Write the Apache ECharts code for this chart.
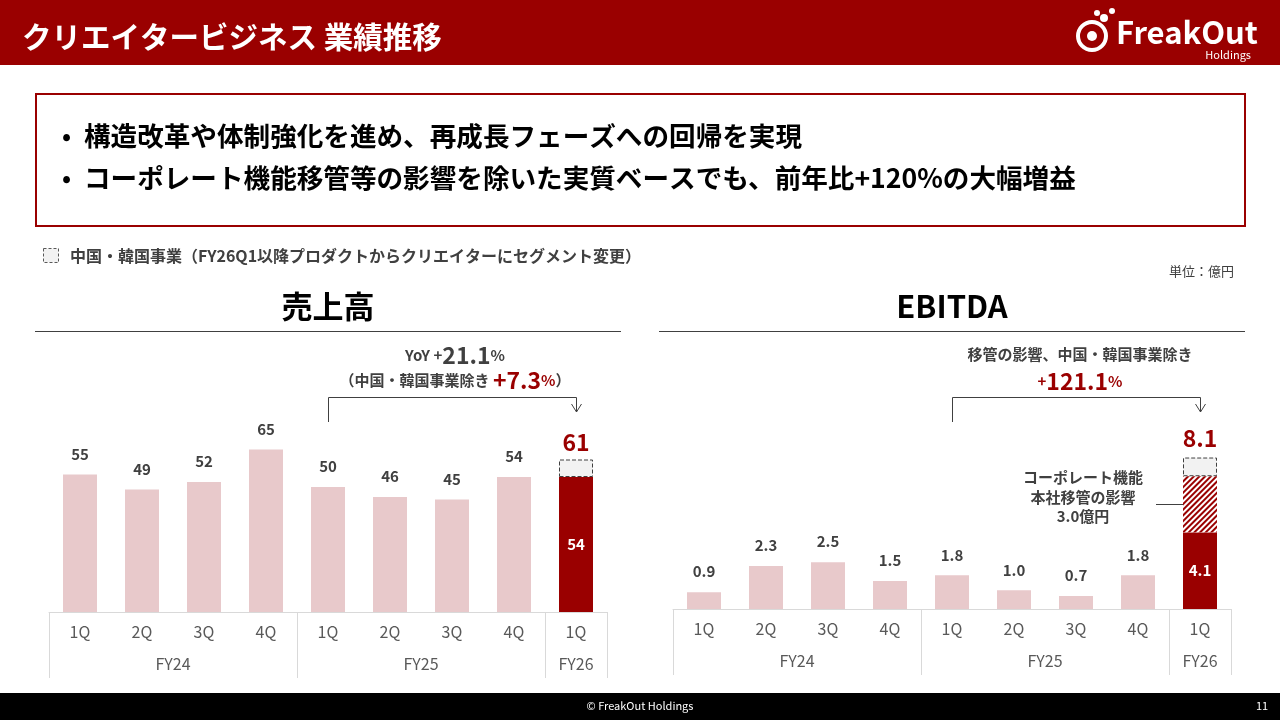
<!DOCTYPE html>
<html>
<head>
<meta charset="utf-8">
<script src="https://cdn.jsdelivr.net/npm/echarts@6/dist/echarts.min.js"></script>
<style>
html, body { margin: 0; padding: 0; background: #fff; }
#main { width: 1280px; height: 720px; }
</style>
</head>
<body>
<div id="main"></div>
<script>
// データ
var quarters = ['1Q', '2Q', '3Q', '4Q', '1Q', '2Q', '3Q', '4Q', '1Q'];
var fyGroups = ['FY24', 'FY25', 'FY26'];
var salesBase = [55, 49, 52, 65, 50, 46, 45, 54, 54];
var salesChina = ['-', '-', '-', '-', '-', '-', '-', '-', 7];
var ebitdaBase = [0.9, 2.3, 2.5, 1.5, 1.8, 1.0, 0.7, 1.8, 4.1];
var ebitdaTransfer = ['-', '-', '-', '-', '-', '-', '-', '-', 3.0];
var ebitdaChina = ['-', '-', '-', '-', '-', '-', '-', '-', 1.0];

var RED = '#9a0000';
var PINK = '#e8c9cb';
var FONT = "'Noto Sans CJK JP', 'Noto Sans', sans-serif";
var last = quarters.length - 1;

// FYグループ用の補助軸（半カテゴリ刻み、両端含めて19点）
var fyLabelIdx = [4, 12, 17];
var fyTickIdx = [0, 8, 16, 18];
var fyAxisData = [];
for (var i = 0; i <= quarters.length * 2; i++) {
    var k = fyLabelIdx.indexOf(i);
    fyAxisData.push(k >= 0 ? fyGroups[k] : '');
}

function baseData(arr) {
    return arr.map(function (v, i) {
        if (i === last) {
            return {
                value: v,
                itemStyle: { color: RED },
                label: { position: 'inside', color: '#fff', distance: 0 }
            };
        }
        return v;
    });
}

function xAxes(gi) {
    return [{
        type: 'category',
        gridIndex: gi,
        position: 'bottom',
        data: quarters,
        axisLine: { lineStyle: { color: '#d9d9d9' } },
        axisTick: { show: false },
        axisLabel: { color: '#595959', fontSize: 16, fontFamily: FONT, margin: 12 }
    }, {
        type: 'category',
        gridIndex: gi,
        position: 'bottom',
        boundaryGap: false,
        data: fyAxisData,
        axisLine: { show: false },
        axisTick: {
            show: true,
            length: 66,
            interval: function (idx) { return fyTickIdx.indexOf(idx) >= 0; },
            lineStyle: { color: '#d9d9d9' }
        },
        axisLabel: {
            interval: 0,
            color: '#595959', fontSize: 16, fontFamily: FONT, margin: 44
        }
    }];
}

var valueLabel = {
    show: true,
    position: 'top',
    distance: 13,
    color: '#404040',
    fontSize: 15,
    fontWeight: 'bold',
    fontFamily: FONT
};

var chart = echarts.init(document.getElementById('main'));
var option = {
    animation: false,
    grid: [
        { left: 49, width: 558, bottom: 108, height: 200 },
        { left: 673, width: 558, bottom: 111, height: 187 }
    ],
    xAxis: xAxes(0).concat(xAxes(1)),
    yAxis: [
        { type: 'value', gridIndex: 0, min: 0, max: 80, show: false },
        { type: 'value', gridIndex: 1, min: 0, max: 10, show: false }
    ],
    series: [{
        name: '売上高',
        type: 'bar',
        xAxisIndex: 0, yAxisIndex: 0,
        stack: 'sales',
        barWidth: 34,
        itemStyle: { color: PINK },
        label: valueLabel,
        data: baseData(salesBase)
    }, {
        name: '中国・韓国事業',
        type: 'bar',
        xAxisIndex: 0, yAxisIndex: 0,
        stack: 'sales',
        barWidth: 34,
        itemStyle: { color: '#f2f2f2', borderColor: '#404040', borderType: 'dashed', borderWidth: 1 },
        label: {
            show: true, position: 'top', distance: 6,
            color: RED, fontSize: 23, fontWeight: 'bold', fontFamily: FONT,
            formatter: function (p) { return String(salesBase[p.dataIndex] + p.value); }
        },
        data: salesChina
    }, {
        name: 'EBITDA',
        type: 'bar',
        xAxisIndex: 2, yAxisIndex: 1,
        stack: 'ebitda',
        barWidth: 34,
        itemStyle: { color: PINK },
        label: Object.assign({}, valueLabel, {
            formatter: function (p) { return Number(p.value).toFixed(1); }
        }),
        data: baseData(ebitdaBase)
    }, {
        name: '本社移管の影響',
        type: 'bar',
        xAxisIndex: 2, yAxisIndex: 1,
        stack: 'ebitda',
        barWidth: 34,
        itemStyle: {
            color: '#ffffff',
            decal: {
                symbol: 'rect',
                color: RED,
                backgroundColor: '#ffffff',
                dashArrayX: [1, 0],
                dashArrayY: [2, 2],
                rotation: -Math.PI / 4
            }
        },
        data: ebitdaTransfer
    }, {
        name: '中国・韓国事業',
        type: 'bar',
        xAxisIndex: 2, yAxisIndex: 1,
        stack: 'ebitda',
        barWidth: 34,
        itemStyle: { color: '#f2f2f2', borderColor: '#404040', borderType: 'dashed', borderWidth: 1 },
        label: {
            show: true, position: 'top', distance: 8,
            color: RED, fontSize: 23, fontWeight: 'bold', fontFamily: FONT,
            formatter: function (p) {
                return (ebitdaBase[p.dataIndex] + ebitdaTransfer[p.dataIndex] + p.value).toFixed(1);
            }
        },
        data: ebitdaChina
    }]
};
chart.setOption(option);

// 注釈（位置は軸から計算）
function px(axis, idx) { return chart.convertToPixel({ xAxisIndex: axis }, idx); }
function py(axis, v) { return chart.convertToPixel({ yAxisIndex: axis }, v); }

function bracket(xAxisIdx, from, to) {
    var x1 = Math.round(px(xAxisIdx, from)) + 0.5;
    var x2 = Math.round(px(xAxisIdx, to)) + 0.5;
    return [{
        type: 'polyline',
        shape: { points: [[x1, 422], [x1, 397.5], [x2, 397.5], [x2, 412]] },
        style: { stroke: '#404040', lineWidth: 1, fill: null }
    }, {
        type: 'polyline',
        shape: { points: [[x2 - 5, 404], [x2, 412], [x2 + 5, 404]] },
        style: { stroke: '#404040', lineWidth: 1, fill: null }
    }];
}

var txt = function (x, y, text, size, opts) {
    return {
        type: 'text', x: x, y: y,
        style: Object.assign({
            text: text, fontSize: size, fontFamily: FONT, fontWeight: 'bold',
            fill: '#000', textVerticalAlign: 'middle'
        }, opts || {})
    };
};

var richAnno = {
    s: { fontSize: 15, fontWeight: 'bold', fontFamily: FONT, fill: '#404040' },
    b: { fontSize: 23, fontWeight: 'bold', fontFamily: FONT, fill: '#404040' },
    rs: { fontSize: 15, fontWeight: 'bold', fontFamily: FONT, fill: RED },
    rb: { fontSize: 23, fontWeight: 'bold', fontFamily: FONT, fill: RED }
};

var hatchY = py(1, ebitdaBase[last] + ebitdaTransfer[last] / 2);
var hatchX = px(2, last);

var graphic = [
    // ヘッダー
    { type: 'rect', shape: { x: 0, y: 0, width: 1280, height: 65 }, style: { fill: RED } },
    txt(22, 37, 'クリエイタービジネス 業績推移', 29.5, { fill: '#fff' }),
    // ロゴ
    { type: 'circle', shape: { cx: 1092, cy: 36, r: 14 }, style: { stroke: '#fff', lineWidth: 4, fill: null } },
    { type: 'circle', shape: { cx: 1092, cy: 36, r: 5 }, style: { fill: '#fff' } },
    { type: 'circle', shape: { cx: 1104, cy: 18, r: 4 }, style: { fill: '#fff' } },
    { type: 'circle', shape: { cx: 1112, cy: 11, r: 3 }, style: { fill: '#fff' } },
    { type: 'circle', shape: { cx: 1097, cy: 13, r: 3 }, style: { fill: '#fff' } },
    txt(1116, 32, 'FreakOut', 31, { fill: '#fff' }),
    txt(1251, 55, 'Holdings', 11, { fill: '#fff', fontWeight: 'normal', textAlign: 'right' }),
    // テキストボックス
    { type: 'rect', shape: { x: 36, y: 94, width: 1209, height: 132 }, style: { fill: null, stroke: RED, lineWidth: 2 } },
    txt(62, 136, '•', 24),
    txt(84, 136, '構造改革や体制強化を進め、再成長フェーズへの回帰を実現', 26.6),
    txt(62, 178, '•', 24),
    txt(84, 178, 'コーポレート機能移管等の影響を除いた実質ベースでも、前年比+120%の大幅増益', 26.6),
    // 凡例
    { type: 'rect', shape: { x: 43.5, y: 248.5, width: 15, height: 14 }, style: { fill: '#f2f2f2', stroke: '#595959', lineWidth: 1, lineDash: [3, 2] } },
    txt(70, 256, '中国・韓国事業（FY26Q1以降プロダクトからクリエイターにセグメント変更）', 16, { fill: '#404040' }),
    txt(1234, 271, '単位：億円', 13, { fill: '#404040', fontWeight: 'normal', textAlign: 'right' }),
    // チャートタイトル
    txt(328, 306, '売上高', 31, { textAlign: 'center' }),
    { type: 'line', shape: { x1: 35, y1: 331.5, x2: 621, y2: 331.5 }, style: { stroke: '#404040', lineWidth: 1 } },
    txt(952, 306, 'EBITDA', 31, { textAlign: 'center' }),
    { type: 'line', shape: { x1: 659, y1: 331.5, x2: 1245, y2: 331.5 }, style: { stroke: '#404040', lineWidth: 1 } },
    // 売上高 注釈
    {
        type: 'text', x: 455, y: 355,
        style: { text: '{s|YoY +}{b|21.1}{s|%}', rich: richAnno, textAlign: 'center', textVerticalAlign: 'middle' }
    },
    {
        type: 'text', x: 455, y: 380,
        style: { text: '{s|（中国・韓国事業除き }{rb|+7.3}{rs|%}{s|）}', rich: richAnno, textAlign: 'center', textVerticalAlign: 'middle' }
    },
    // EBITDA 注釈
    txt(1080, 354, '移管の影響、中国・韓国事業除き', 15, { fill: '#404040', textAlign: 'center' }),
    {
        type: 'text', x: 1080, y: 381,
        style: { text: '{rs|+}{rb|121.1}{rs|%}', rich: richAnno, textAlign: 'center', textVerticalAlign: 'middle' }
    },
    txt(1083, 477, 'コーポレート機能', 15, { fill: '#404040', textAlign: 'center' }),
    txt(1083, 497, '本社移管の影響', 15, { fill: '#404040', textAlign: 'center' }),
    txt(1083, 516, '3.0億円', 15, { fill: '#404040', textAlign: 'center' }),
    { type: 'line', shape: { x1: 1156, y1: Math.round(hatchY) + 0.5, x2: hatchX - 7, y2: Math.round(hatchY) + 0.5 }, style: { stroke: '#404040', lineWidth: 1 } },
    // フッター
    { type: 'rect', shape: { x: 0, y: 693, width: 1280, height: 27 }, style: { fill: '#000' } },
    txt(640, 706, '© FreakOut Holdings', 11, { fill: '#fff', fontWeight: 'normal', textAlign: 'center' }),
    txt(1262, 706, '11', 11, { fill: '#fff', fontWeight: 'normal', textAlign: 'center' })
].concat(bracket(0, 4, last)).concat(bracket(2, 4, last));

chart.setOption({ graphic: graphic });
window.addEventListener('resize', function () { chart.resize(); });
</script>
</body>
</html>
